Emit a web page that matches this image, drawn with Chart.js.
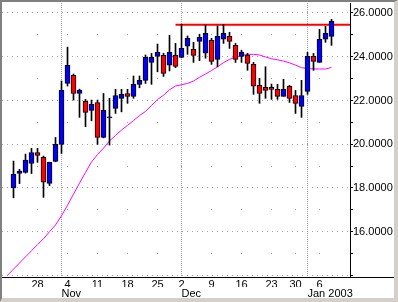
<!DOCTYPE html>
<html>
<head>
<meta charset="utf-8">
<script src="https://cdn.jsdelivr.net/npm/chart.js@4.4.1/dist/chart.umd.min.js"></script>
<style>
  html, body { margin: 0; padding: 0; background: #d4d0c8; }
  #frame {
    position: absolute; left: 0; top: 0;
    width: 398px; height: 302px; box-sizing: border-box;
    border-left: 2px solid #808080; border-top: 2px solid #808080;
    border-right: 4px solid #d4d0c8; border-bottom: 4px solid #d4d0c8;
    background: #fff;
  }
  #chart { display: block; }
</style>
</head>
<body>
<div id="frame"><canvas id="chart" width="392" height="296"></canvas></div>
<script>
// trading days, Oct 22 2002 - Jan 8 2003
const dates = [
    "2002-10-22", "2002-10-23", "2002-10-24", "2002-10-25",
    "2002-10-28", "2002-10-29", "2002-10-30", "2002-10-31", "2002-11-01",
    "2002-11-04", "2002-11-05", "2002-11-06", "2002-11-07", "2002-11-08",
    "2002-11-11", "2002-11-12", "2002-11-13", "2002-11-14", "2002-11-15",
    "2002-11-18", "2002-11-19", "2002-11-20", "2002-11-21", "2002-11-22",
    "2002-11-25", "2002-11-26", "2002-11-27", "2002-11-29",
    "2002-12-02", "2002-12-03", "2002-12-04", "2002-12-05", "2002-12-06",
    "2002-12-09", "2002-12-10", "2002-12-11", "2002-12-12", "2002-12-13",
    "2002-12-16", "2002-12-17", "2002-12-18", "2002-12-19", "2002-12-20",
    "2002-12-23", "2002-12-24", "2002-12-26", "2002-12-27",
    "2002-12-30", "2002-12-31", "2003-01-02", "2003-01-03",
    "2003-01-06", "2003-01-07", "2003-01-08"
];
const open = [
    18.00, 18.66, 18.71, 19.12, 19.62, 19.40, 18.21, 19.21, 19.99,
    22.78, 23.15, 22.32, 21.96, 21.55, 21.91, 20.31, 21.22, 21.64, 22.10,
    22.32, 22.19, 22.74, 22.92, 23.74, 24.02, 24.06, 23.61, 24.06,
    23.97, 24.48, 24.34, 24.70, 24.16, 24.75, 23.88, 24.80, 24.93, 24.52,
    24.02, 24.06, 23.65, 22.69, 22.60, 22.60, 22.51, 22.19, 22.65,
    22.23, 21.73, 22.42, 24.02, 23.74, 24.80, 24.93
];
const high = [
    19.23, 18.85, 19.55, 19.81, 19.81, 19.46, 19.18, 20.31, 22.89,
    24.44, 23.21, 22.52, 22.05, 22.02, 22.02, 22.32, 22.10, 22.51, 22.51,
    22.51, 23.12, 23.12, 24.08, 24.15, 24.58, 24.16, 24.98, 24.61,
    25.48, 24.95, 24.66, 25.03, 25.45, 24.84, 25.41, 25.48, 25.12, 24.61,
    24.30, 24.16, 23.74, 23.01, 23.54, 22.75, 22.74, 22.97, 22.69,
    22.46, 22.92, 24.20, 24.15, 25.25, 25.39, 25.71
];
const low = [
    17.55, 18.20, 18.68, 18.66, 19.17, 17.57, 18.11, 19.20, 19.58,
    22.66, 22.02, 21.23, 20.80, 21.07, 19.99, 20.29, 19.96, 21.41, 21.48,
    21.87, 22.10, 22.58, 22.78, 22.74, 23.31, 23.10, 23.35, 23.50,
    23.95, 24.11, 23.74, 23.82, 23.93, 23.65, 23.54, 24.61, 24.38, 23.74,
    23.74, 23.38, 22.28, 21.87, 22.10, 22.05, 22.05, 22.19, 21.91,
    21.41, 21.23, 22.28, 23.38, 23.74, 24.66, 24.52
];
const close = [
    18.63, 18.77, 19.27, 19.62, 19.49, 18.27, 19.17, 19.99, 22.48,
    23.61, 22.32, 22.48, 21.46, 21.82, 20.31, 21.55, 21.25, 22.23, 22.28,
    22.19, 22.74, 22.92, 23.97, 23.97, 24.20, 23.24, 24.20, 23.56,
    24.38, 24.84, 24.06, 24.89, 25.07, 23.79, 24.93, 25.07, 24.70, 23.88,
    24.20, 23.70, 22.65, 22.32, 22.46, 22.51, 22.19, 22.51, 22.10,
    21.87, 22.23, 24.02, 23.79, 24.80, 25.07, 25.62
];
// moving average, first value belongs to the day before the first candle
const maStart = -1;
const movingAvg = [
    14.01, 14.29, 14.57, 14.85, 15.13, 15.41, 15.68, 16.00, 16.31, 16.73,
    17.21, 17.72, 18.22, 18.71, 19.19, 19.53, 19.82, 20.15, 20.40, 20.65,
    20.86, 21.08, 21.31, 21.50, 21.77, 22.05, 22.24, 22.49, 22.66, 22.72,
    22.78, 22.89, 23.06, 23.21, 23.37, 23.54, 23.73, 23.88, 23.98, 24.05,
    24.11, 24.11, 24.08, 23.99, 23.91, 23.86, 23.80, 23.72, 23.62, 23.50,
    23.46, 23.44, 23.44, 23.44, 23.51
];
// resistance line
const resistLevel = 25.46;
const resistFrom = 27;

const monthNames = ["Jan", "Feb", "Mar", "Apr", "May", "Jun", "Jul", "Aug", "Sep", "Oct", "Nov", "Dec"];
const yTicks = [14, 15, 16, 17, 18, 19, 20, 21, 22, 23, 24, 25, 26];
const yLabels = [16, 18, 20, 22, 24, 26];

const xMin = -1.9167, xMax = 56.0833;
const yMin = 13.93, yMax = 26.457;

function toDate(s) {
    let p = s.split("-");
    return new Date(+p[0], +p[1] - 1, +p[2]);
}
const days = dates.map(toDate);
// weekly ticks on mondays, month lines on the first trading day of a month
let weekIdx = [];
let monthIdx = [];
days.forEach(function (d, i) {
    if (d.getDay() === 1) weekIdx.push(i);
    if (i > 0 && d.getMonth() !== days[i - 1].getMonth()) monthIdx.push(i);
});
function monthLabel(i) {
    let d = days[i];
    let s = monthNames[d.getMonth()];
    if (d.getMonth() === 0) s += " " + d.getFullYear();
    return s;
}

const bodies = dates.map((d, i) => ({ x: i, y: [open[i], close[i]] }));
const wicks = dates.map((d, i) => ({ x: i, y: [low[i], high[i]] }));
const bodyColors = dates.map((d, i) => close[i] >= open[i] ? "#0000ff" : "#ff0000");
const maData = movingAvg.map((v, k) => ({ x: k + maStart, y: v }));

const font = { family: "'Liberation Sans', Arial, sans-serif", size: 11 };

const gridDots = {
    id: "gridDots",
    beforeDatasetsDraw(chart) {
        const { ctx, scales } = chart;
        ctx.save();
        ctx.fillStyle = "#a0a0a0";
        weekIdx.forEach(function (i) {
            let px = Math.floor(scales.x.getPixelForValue(i));
            yTicks.forEach(function (v) {
                if (v % 2 === 1) {
                    ctx.fillRect(px, Math.floor(scales.y.getPixelForValue(v)), 1, 1);
                }
            });
        });
        ctx.restore();
    },
    afterDraw(chart) {
        // bottom axis runs on under the price labels
        const { ctx, chartArea } = chart;
        ctx.save();
        ctx.fillStyle = "#000";
        ctx.fillRect(chartArea.right, Math.floor(chartArea.bottom), chart.width - chartArea.right, 1);
        ctx.restore();
    }
};

function noPad(scale) {
    scale.paddingLeft = 0;
    scale.paddingRight = 0;
    scale.paddingTop = 0;
    scale.paddingBottom = 0;
}

new Chart(document.getElementById("chart"), {
    type: "bar",
    data: {
        datasets: [{
            data: bodies,
            backgroundColor: bodyColors,
            borderColor: "#000",
            borderWidth: 1,
            borderSkipped: false,
            barThickness: 5,
            grouped: false
        }, {
            data: wicks,
            backgroundColor: "#000",
            borderWidth: 0,
            barThickness: 1,
            grouped: false
        }, {
            type: "line",
            data: [{ x: resistFrom, y: resistLevel }, { x: xMax, y: resistLevel }],
            borderColor: "#ff0000",
            borderWidth: 2,
            pointRadius: 0
        }, {
            type: "line",
            data: maData,
            borderColor: "#ff00ff",
            borderWidth: 1,
            pointRadius: 0,
            tension: 0
        }]
    },
    plugins: [gridDots],
    options: {
        responsive: false,
        animation: false,
        events: [],
        layout: { padding: { left: 0, top: 1, right: 0, bottom: 1 } },
        plugins: { legend: { display: false }, tooltip: { enabled: false } },
        scales: {
            x: {
                type: "linear",
                position: "bottom",
                offset: false,
                min: xMin,
                max: xMax,
                afterBuildTicks: function (scale) {
                    scale.ticks = weekIdx.map(v => ({ value: v }));
                },
                afterFit: function (scale) {
                    scale.height = 10;
                    noPad(scale);
                },
                grid: { offset: false, drawOnChartArea: false, drawTicks: false },
                border: { display: true, color: "#000", width: 1 },
                ticks: {
                    autoSkip: false,
                    maxRotation: 0,
                    padding: 1,
                    color: "#000",
                    font: font,
                    callback: function (v) { return String(days[v].getDate()); }
                }
            },
            x2: {
                type: "linear",
                position: "bottom",
                offset: false,
                weight: 1,
                min: xMin,
                max: xMax,
                afterBuildTicks: function (scale) {
                    scale.ticks = monthIdx.map(v => ({ value: v }));
                },
                afterFit: function (scale) {
                    scale.height = 10;
                    noPad(scale);
                },
                grid: { offset: false, drawOnChartArea: true, drawTicks: false, color: "#a0a0a0" },
                border: { display: false, dash: [1, 1] },
                ticks: {
                    autoSkip: false,
                    maxRotation: 0,
                    align: "start",
                    padding: 0,
                    color: "#000",
                    font: font,
                    callback: function (v) { return monthLabel(v); }
                }
            },
            y: {
                type: "linear",
                position: "right",
                min: yMin,
                max: yMax,
                afterBuildTicks: function (scale) {
                    scale.ticks = yTicks.map(v => ({ value: v }));
                },
                afterFit: function (scale) {
                    scale.width = 44;
                    noPad(scale);
                },
                grid: {
                    color: function (c) {
                        return c.tick && c.tick.value % 2 === 0 ? "#a0a0a0" : "rgba(0,0,0,0)";
                    },
                    tickColor: "#000",
                    tickLength: 3
                },
                border: { display: true, color: "#000", width: 1, dash: [1, 4] },
                ticks: {
                    padding: 0,
                    color: "#000",
                    font: font,
                    callback: function (v) { return yLabels.includes(v) ? v.toFixed(4) : ""; }
                }
            }
        }
    }
});
</script>
</body>
</html>
